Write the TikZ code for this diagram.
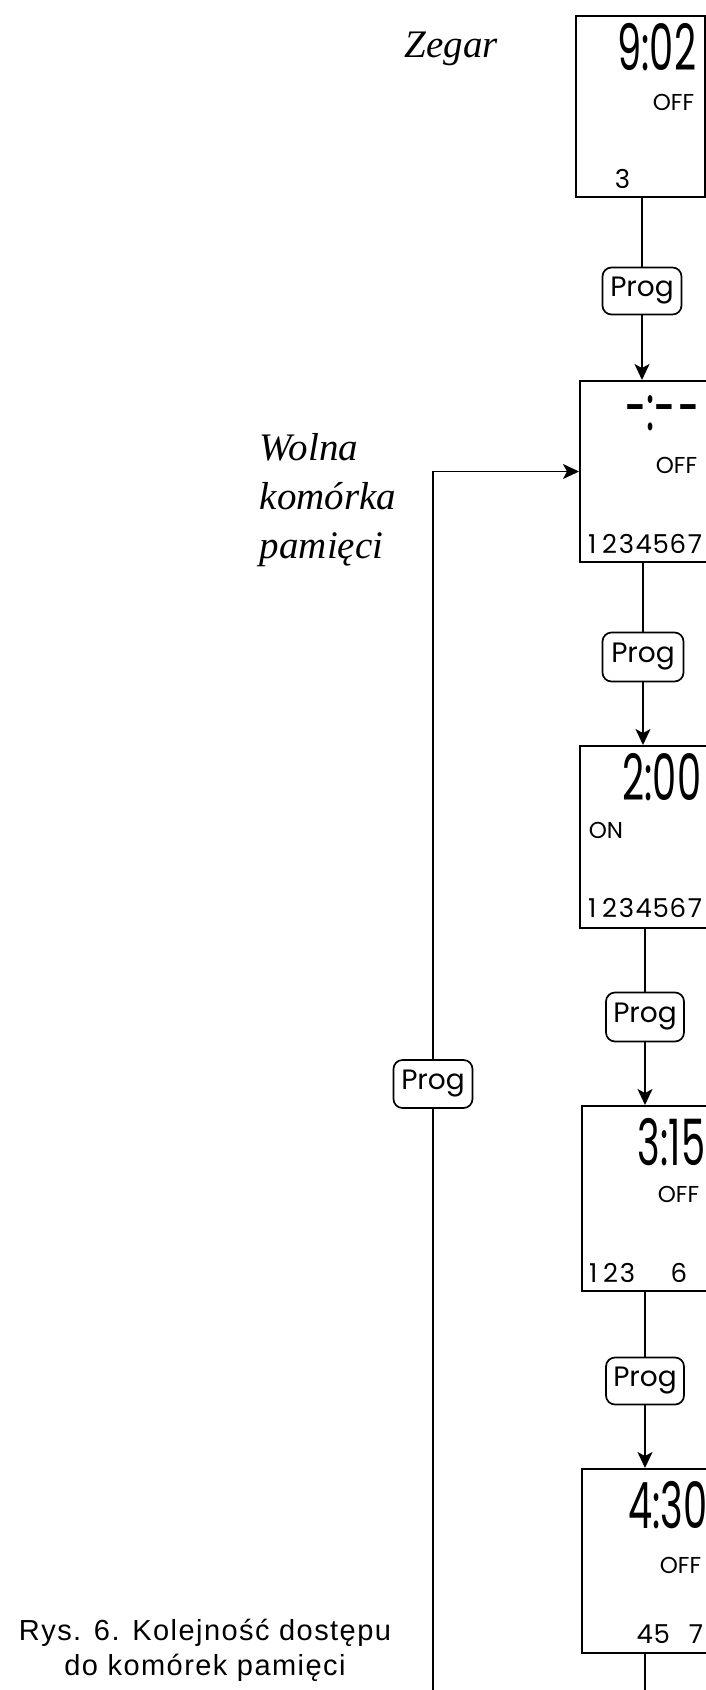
\documentclass[tikz,border=0pt]{standalone}
\usepackage{fontspec}
\setmainfont{Liberation Serif}
\newfontfamily\capfont[LetterSpace=5]{Liberation Sans}
\newfontfamily\keyfont{Poppins}
\newfontfamily\lcdfont[FakeStretch=0.6]{Poppins}
\usetikzlibrary{positioning,arrows.meta}
\newcommand{\dayslot}[1]{\makebox[17.1pt][c]{#1}}

\begin{document}
\begin{tikzpicture}[x=1pt,y=-1pt,line width=1.7pt,
  lcdbox/.style={draw, line width=2pt, rectangle, anchor=north west, inner sep=0pt},
  progkey/.style={draw, line width=1.7pt, rounded corners=9pt, minimum width=79pt, minimum height=47pt,
    inner sep=0pt, font=\keyfont\fontsize{28}{30}\selectfont},
  lcdtime/.style={anchor=base east, inner sep=0pt, font=\lcdfont\fontsize{64}{64}\selectfont},
  lcdstate/.style={inner sep=0pt, font=\keyfont\fontsize{23}{23}\selectfont},
  lcddays/.style={anchor=base west, inner sep=0pt, font=\keyfont\fontsize{26}{26}\selectfont},
  note/.style={inner sep=0pt, font=\itshape\fontsize{39}{49}\selectfont},
  flow/.style={-{Stealth[length=16pt,width=15pt,inset=4pt]}}]
  \useasboundingbox (0,0) rectangle (706,1690);

  % Displays
  \node[lcdbox, minimum width=129pt, minimum height=181pt] (b1) at (575,15) {};
  \node[lcdbox, minimum width=140pt, minimum height=181pt] (b2) at (579,380) {};
  \node[lcdbox, minimum width=140pt, minimum height=182pt] (b3) at (579,745) {};
  \node[lcdbox, minimum width=140pt, minimum height=185pt] (b4) at (581,1105) {};
  \node[lcdbox, minimum width=140pt, minimum height=184pt] (b5) at (581,1468) {};

  % Clock
  \node[lcdtime] (t1) at (697,70) {9:02};
  \node[lcdstate, anchor=base east] (s1) at (695,110) {OFF};
  \node[lcddays] (d1) at (579,188) {\dayslot{}\dayslot{}\dayslot{3}};

  % Free cell
  \node[lcdtime] (t2) at (701,430) {-:-\hspace{3pt}-};
  \node[lcdstate, anchor=base east] (s2) at (698,473) {OFF};
  \node[lcddays] (d2) at (583,553) {\dayslot{1}\dayslot{2}\dayslot{3}\dayslot{4}\dayslot{5}\dayslot{6}\dayslot{7}};

  % Cell 2:00
  \node[lcdtime] (t3) at (702,800) {2:00};
  \node[lcdstate, anchor=base west] (s3) at (588,838) {ON};
  \node[lcddays] (d3) at (583,917) {\dayslot{1}\dayslot{2}\dayslot{3}\dayslot{4}\dayslot{5}\dayslot{6}\dayslot{7}};

  % Cell 3:15
  \node[lcdtime] (t4) at (706,1165) {3:15};
  \node[lcdstate, anchor=base east] (s4) at (700,1202) {OFF};
  \node[lcddays] (d4) at (584,1282) {\dayslot{1}\dayslot{2}\dayslot{3}\dayslot{}\dayslot{}\dayslot{6}\dayslot{}};

  % Cell 4:30
  \node[lcdtime] (t5) at (708,1528) {4:30};
  \node[lcdstate, anchor=base east] (s5) at (702,1573) {OFF};
  \node[lcddays] (d5) at (584,1643) {\dayslot{}\dayslot{}\dayslot{}\dayslot{4}\dayslot{5}\dayslot{}\dayslot{7}};

  % Keys
  \node[progkey] (p1) at (642,291) {Prog};
  \node[progkey, minimum width=81pt, minimum height=49pt] (p2) at (643,657) {Prog};
  \node[progkey, minimum width=78pt, minimum height=49pt] (p3) at (645,1017) {Prog};
  \node[progkey, minimum width=78pt] (p4) at (645,1381) {Prog};
  \node[progkey, minimum height=48pt] (pl) at (433,1084) {Prog};

  % Labels
  \node[note, anchor=base west] (zegar) at (404,57) {Zegar};
  \node[note, anchor=north west, align=left] (wolna) at (259,433) {Wolna\\komórka\\pamięci};
  \node[inner sep=0pt, align=center, font=\capfont\fontsize{29}{35}\selectfont] (rys) at (205,1650)
    {Rys. 6. Kolejność dostępu\\do komórek pamięci};

  % Sequence
  \draw (b1.south -| p1) -- (p1);
  \draw[flow] (p1) -- (p1 |- b2.north);
  \draw (b2.south -| p2) -- (p2);
  \draw[flow] (p2) -- (p2 |- b3.north);
  \draw (b3.south -| p3) -- (p3);
  \draw[flow] (p3) -- (p3 |- b4.north);
  \draw (b4.south -| p4) -- (p4);
  \draw[flow] (p4) -- (p4 |- b5.north);
  \coordinate (foot) at (433,1700);
  \draw (b5.south -| p4) -- (p4 |- foot);

  % Loop back to a free cell
  \draw (foot) -- (pl);
  \draw[flow] (pl) |- (b2.west);
\end{tikzpicture}
\end{document}
